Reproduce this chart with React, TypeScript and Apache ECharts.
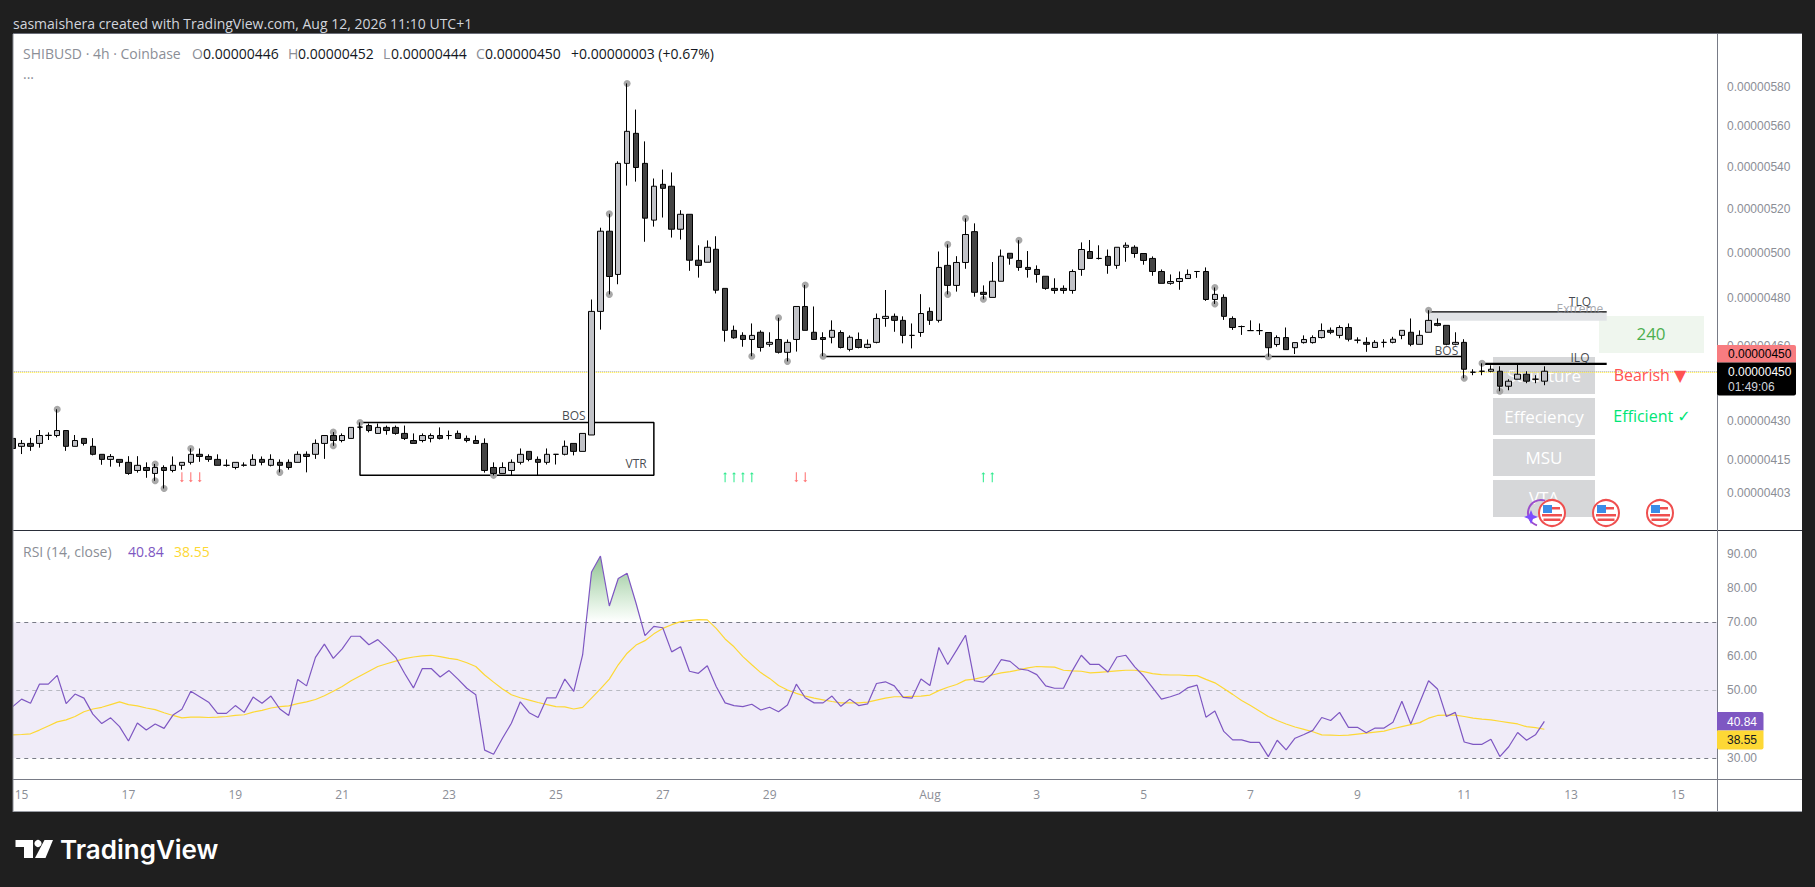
import React, { useEffect, useRef } from "react";
import * as echarts from "echarts";

// prices are in units of 0.00000001: [open, close, low, high]
const candles: number[][] = [
  [423.2,419.4,419.4,423.2],[420.2,421.3,417.3,422.6],[421.3,420.2,418.5,423.4],[421.3,424.3,419.7,426.4],[424.3,424.4,422.6,425.5],
  [424.3,426.2,423.6,434.4],[426.2,420.2,418.5,426.2],[420.2,422.4,420.2,424.5],[423.2,421.3,420.5,423.2],[420.2,417.2,416.8,423.3],
  [417.2,415.3,413.3,417.2],[415.3,416.4,412.6,417.3],[415.3,414.2,412.6,415.3],[414.2,410.1,409.6,416.5],[411.2,413.1,410.4,416.5],
  [412.3,411.2,408.5,414.2],[410.1,412.3,407.4,413.6],[412.3,411.2,404.6,413.1],[411.2,413.1,410.5,416.4],[413.1,414.2,411.5,414.2],
  [414.2,417.2,413.4,419.4],[417.2,416.4,414.4,419.4],[416.4,415.3,414.4,417.2],[415.3,413.1,413.1,417.2],[413.1,413.1,412.6,415.3],
  [412.3,414.2,411.6,414.2],[413.1,413.2,412.6,414.2],[413.1,415.3,413.1,417.2],[415.3,414.2,413.1,416.4],[413.1,415.3,412.7,417.2],
  [414.2,413.1,410.5,415.3],[414.2,412.3,411.5,415.3],[414.2,417.2,414.2,418.3],[417.2,416.4,410.5,418.3],[417.2,421.3,415.5,422.8],
  [421.3,424.3,415.5,424.3],[424.3,422.4,420.4,425.6],[422.4,424.3,421.7,425.1],[423.2,427.4,423.2,427.4],[427.5,427.5,426.6,429.3],
  [428.1,426.2,425.5,428.9],[425.1,427.4,425.1,428.9],[427.4,426.2,424.6,428.1],[427.4,425.1,424.6,428.1],[425.1,423.2,422.6,428.1],
  [422.4,421.3,421.3,425.1],[422.4,424.3,421.7,425.1],[423.2,424.3,421.7,425.1],[424.3,423.2,422.8,427.4],[424.3,424.3,422.8,426.2],
  [425.1,423.2,423.2,426.2],[423.2,422.4,421.7,424.3],[422.4,421.3,421.3,424.3],[421.3,411.2,410.4,423.2],[412.3,410.1,409.4,414.2],
  [410.1,412.3,410.1,414.2],[411.2,414.2,409.4,415.3],[414.2,417.2,413.4,419.4],[418.3,415.3,414.6,418.3],[415.3,414.2,409.4,416.4],
  [414.2,417.2,413.4,419.4],[417.2,417.2,413.4,417.2],[417.2,420.2,416.8,422.4],[421.3,418.3,416.8,421.3],[418.3,425.1,418.3,425.1],
  [424.5,474.3,424.5,479.4],[474.3,509.7,466.6,511.3],[509.7,489.4,481.6,517.7],[490.3,541.7,486.0,542.7],[541.7,557.5,531.0,582.0],
  [556.5,539.7,532.9,568.5],[541.7,515.7,504.9,552.5],[514.8,530.7,511.8,534.4],[531.6,529.7,516.0,538.7],[530.7,510.6,506.8,537.3],
  [510.6,517.5,505.9,519.4],[517.5,496.6,491.9,517.5],[496.6,494.3,488.9,503.3],[495.7,502.4,495.7,505.5],[501.5,483.4,482.0,507.4],
  [484.2,466.3,461.6,484.2],[466.3,463.2,462.8,468.3],[464.2,462.5,459.5,465.5],[462.5,464.2,455.6,469.2],[465.5,459.2,457.5,466.3],
  [460.5,461.3,459.5,465.5],[462.5,457.2,456.7,471.6],[457.2,461.3,453.5,462.5],[462.5,476.4,457.5,476.4],[476.4,466.3,466.3,485.7],
  [465.5,462.5,462.5,476.4],[463.3,462.5,455.6,465.5],[463.4,466.3,460.9,470.5],[465.4,459.2,458.8,466.3],[458.4,463.4,457.6,464.2],
  [462.5,459.2,458.8,465.4],[459.2,460.5,458.8,462.5],[461.3,471.3,460.9,473.4],[471.3,472.2,467.8,483.5],[472.2,470.5,465.7,473.4],
  [470.5,464.2,460.9,472.2],[464.2,464.2,458.8,469.2],[465.4,473.4,463.6,481.7],[474.3,470.5,468.6,476.0],[470.5,493.4,469.6,500.5],
  [494.3,485.5,481.6,503.7],[485.5,495.6,482.8,498.4],[495.6,508.2,492.8,515.6],[509.5,482.5,480.6,513.3],[482.5,481.6,479.5,485.5],
  [480.3,487.3,480.3,495.8],[487.3,498.4,487.3,501.4],[499.7,497.5,494.6,499.7],[496.5,493.4,491.9,505.6],[493.4,492.5,488.9,500.7],
  [492.5,490.3,486.7,494.3],[489.5,484.2,483.6,489.5],[484.2,483.3,481.9,488.6],[484.2,483.3,481.9,485.5],[483.3,491.6,481.9,492.5],
  [492.5,501.4,489.7,504.6],[500.5,497.4,497.4,505.7],[497.4,497.4,496.9,503.3],[498.3,494.3,490.6,501.4],[494.3,502.4,492.8,502.4],
  [502.4,503.3,495.9,504.6],[502.4,499.6,497.7,503.3],[499.6,496.5,494.6,499.6],[497.4,491.6,489.7,498.3],[491.6,486.4,486.4,492.5],
  [486.4,487.2,485.8,490.3],[487.2,488.5,483.6,491.6],[488.5,490.3,488.5,492.5],[491.6,491.6,488.8,491.6],[491.6,479.4,478.8,493.4],
  [479.4,481.6,477.5,484.6],[480.3,472.2,470.7,481.6],[471.3,467.5,466.5,472.2],[467.9,467.9,464.4,468.3],[466.2,466.2,466.2,470.5],
  [466.2,466.2,464.4,469.2],[465.4,459.1,455.4,465.4],[460.4,463.3,459.5,464.2],[463.3,458.3,458.3,467.5],[459.1,461.2,456.5,461.2],
  [461.2,462.5,460.8,464.2],[461.2,463.3,460.8,464.2],[463.3,466.2,462.9,469.2],[466.3,465.5,464.7,467.5],[464.2,467.5,463.0,468.4],
  [467.5,462.6,461.7,469.2],[462.2,462.2,460.9,463.4],[461.3,460.5,457.4,463.4],[459.2,461.3,459.2,462.2],[461.3,461.3,459.2,462.6],
  [461.3,462.6,460.9,463.6],[464.2,466.3,462.6,466.3],[465.5,460.5,459.7,471.3],[460.5,464.2,460.5,466.3],[465.5,470.5,465.5,474.8],
  [469.2,468.4,468.0,471.3],[468.4,460.5,460.1,468.4],[460.5,461.3,460.1,465.5],[461.3,450.3,446.7,462.6],[449.1,449.1,447.9,450.3],
  [449.5,449.5,447.9,452.7],[449.5,450.3,449.1,451.9],[449.5,443.5,441.5,451.5],[443.5,445.5,441.9,446.3],[446.3,448.3,446.3,452.3],
  [448.3,445.5,444.7,449.5],[446.3,446.3,444.7,447.9],[445.5,449.5,443.9,451.5],
];

const rsiValues: number[] = [
  45.2,47.4,46.2,51.8,51.8,54.4,46.1,48.9,47.7,43.0,40.2,41.9,39.3,35.1,40.4,38.3,40.1,38.8,42.7,44.4,
  49.7,48.1,46.5,43.2,43.2,45.5,43.5,48.0,46.2,48.3,44.5,42.6,53.2,51.3,59.7,63.6,59.4,62.2,65.9,65.9,
  63.4,64.9,62.4,59.7,55.0,50.7,56.4,56.4,53.9,55.8,53.3,50.6,48.7,32.4,31.2,35.9,40.3,46.6,43.4,42.0,
  47.8,47.8,53.3,49.7,60.4,84.8,89.5,74.8,82.9,84.4,75.6,66.1,68.8,68.4,61.3,62.8,55.6,55.0,57.2,51.1,
  46.3,45.5,45.2,45.9,44.2,45.0,43.7,45.7,51.8,47.8,46.3,46.3,48.3,45.3,47.4,45.5,46.0,52.0,52.5,51.3,
  47.9,47.7,53.3,51.4,62.6,57.6,61.8,66.2,52.8,52.4,54.8,59.0,58.5,56.3,55.9,54.6,51.3,50.6,50.6,55.8,
  60.3,57.6,57.6,55.4,59.8,60.3,56.9,54.2,50.8,47.4,48.1,49.0,50.8,51.5,42.1,43.9,37.9,35.4,35.4,34.7,
  34.7,30.5,35.3,32.5,35.9,37.0,38.2,42.0,41.1,43.5,39.1,39.1,37.5,38.9,38.9,40.6,46.8,40.1,46.4,52.8,
  50.4,42.3,43.5,34.8,34.1,34.1,35.6,30.5,33.4,37.6,35.3,36.9,40.84,
];

const rsiMa: number[] = [
  36.9,37.0,37.2,38.3,39.5,40.7,41.3,42.3,43.7,44.5,45.0,45.8,46.6,45.8,45.4,44.8,44.3,43.4,42.6,41.9,
  42.1,42.1,42.0,42.1,42.3,42.6,42.8,43.6,44.1,44.8,45.2,45.4,46.1,46.6,47.3,48.4,49.7,51.1,52.8,54.2,
  55.6,57.0,57.8,58.6,59.3,59.8,60.1,60.3,59.9,59.4,59.0,58.1,57.0,54.5,52.4,50.4,48.7,47.8,47.1,46.4,
  45.8,45.2,45.1,44.5,45.0,47.7,50.4,53.3,57.5,60.9,63.3,64.6,66.6,68.2,69.3,70.2,70.5,70.8,70.7,68.2,
  65.1,62.8,59.9,57.5,55.2,53.5,51.4,50.1,49.1,48.3,47.7,47.2,46.7,46.3,46.3,46.3,46.5,47.1,47.7,48.1,
  48.1,48.2,48.3,48.6,49.9,50.9,51.7,53.0,53.3,53.9,54.5,55.1,55.5,56.0,56.6,57.0,56.9,56.8,55.9,55.7,
  55.6,55.1,55.3,55.5,55.7,55.9,55.9,55.5,54.9,54.6,54.5,54.5,54.3,54.3,53.2,52.2,50.5,48.8,47.0,45.5,
  43.9,42.3,41.1,40.1,39.2,38.5,37.8,36.9,36.8,36.7,36.8,37.1,37.4,37.7,38.0,38.7,39.3,39.9,40.5,41.8,
  42.6,42.7,42.7,42.3,41.8,41.5,41.3,40.9,40.5,40.1,39.3,39.0,38.55,
];

// [bar, price] of the swing markers
const swingPoints: number[][] = [
  [5,434.4],[16,413.6],[16,407.4],[17,404.6],[20,419.4],[30,410.5],[36,425.6],[36,420.4],[39,429.3],[54,409.4],
  [67,517.7],[67,481.6],[69,582.0],[83,455.6],[86,471.6],[87,453.5],[89,485.7],[91,455.6],[105,503.7],[105,481.6],
  [107,515.6],[109,479.5],[113,505.6],[135,484.6],[135,477.5],[141,455.4],[159,474.8],[163,446.7],[165,452.7],[167,441.5],
];
const arrowsUp: number[][] = [[80,408.7],[81,408.7],[82,408.7],[83,408.7],[109,408.7],[110,408.7]];
const arrowsDown: number[][] = [[19,408.7],[20,408.7],[21,408.7],[88,408.7],[89,408.7]];

const vtrBox: number[][] = [[39,429.3],[72,429.3],[72,409.4],[39,409.4],[39,429.3]];
const bosLine: number[][] = [[91,455.5],[163,455.5]];
const tlqLine: number[][] = [[159,474.1],[179,474.1]];
const ilqLine: number[][] = [[165,452.5],[179,452.5]];
const extremeBand = { from: [159, 474.1], to: [179, 470.3] };
const lastPrice = 449.4;
const lastPriceMa = 448.9;

const drawingLabels: { text: string; at: number[]; color: string }[] = [
  { text: "BOS", at: [63, 431.9], color: "#131722" },
  { text: "VTR", at: [70, 413.9], color: "#131722" },
  { text: "BOS", at: [161, 458.1], color: "#131722" },
  { text: "TLQ", at: [176, 478.4], color: "#131722" },
  { text: "Extreme", at: [176, 475.7], color: "#8d8f97" },
  { text: "ILQ", at: [176, 455.2], color: "#131722" },
];

const priceTicks = [600, 580, 560, 540, 520, 500, 480, 460, 430, 415, 403, 391];
const rsiTicks = [90, 80, 70, 60, 50, 40, 30];
const dateTicks: Record<string, string> = {
  "07-15": "15", "07-17": "17", "07-19": "19", "07-21": "21", "07-23": "23", "07-25": "25", "07-27": "27", "07-29": "29",
  "08-01": "Aug", "08-03": "3", "08-05": "5", "08-07": "7", "08-09": "9", "08-11": "11", "08-13": "13", "08-15": "15",
};
const pad = (n: number) => String(n).padStart(2, "0");
const categories: string[] = Array.from({ length: 192 }, (_, i) => {
  const d = new Date(Date.UTC(2026, 6, 14, 20 + 4 * i));
  return `${pad(d.getUTCMonth() + 1)}-${pad(d.getUTCDate())} ${pad(d.getUTCHours())}`;
});
const tickLabel = (c: string) => (c.endsWith(" 00") ? dateTicks[c.slice(0, 5)] : undefined);

const SANS = '"Open Sans", sans-serif';
const GRAY = "#8b8e96";

function txt(text: string, x: number, y: number, fill: string, size = 14, opt: any = {}) {
  return {
    type: "text",
    z: opt.z ?? 6,
    style: {
      text, x, y, fill, fontSize: size,
      fontFamily: opt.family ?? SANS,
      fontWeight: opt.weight ?? "normal",
      textAlign: opt.align ?? "left",
      textVerticalAlign: "middle",
    },
  };
}
function box(x: number, y: number, width: number, height: number, fill: string, z = 1, r: any = 0) {
  return { type: "rect", z, shape: { x, y, width, height, r }, style: { fill } };
}
function hv(x1: number, y1: number, x2: number, y2: number, stroke: string, z = 8, lineWidth = 1) {
  return { type: "line", z, shape: { x1, y1, x2, y2 }, style: { stroke, lineWidth } };
}
function flag(cx: number, cy: number) {
  const red = "#ef4f4f";
  return [
    { type: "circle", z: 30, shape: { cx, cy, r: 13 }, style: { fill: "#fff", stroke: red, lineWidth: 2 } },
    box(cx - 9, cy - 8, 9, 8, "#3b8ce8", 31),
    box(cx, cy - 6, 8, 2.5, red, 31),
    box(cx - 10, cy + 1, 20, 2.5, red, 31),
    box(cx - 8.5, cy + 5.5, 17, 2.5, red, 31),
  ];
}

const graphicElements: any[] = [
  box(13, 34, 1789, 778, "#ffffff", -2),
  // table panel behind candles
  box(1493, 357, 102, 37, "#d6d7d9", 1),
  box(1493, 398, 102, 37, "#d6d7d9", 1),
  box(1493, 439, 102, 37, "#d6d7d9", 1),
  box(1493, 480, 102, 37, "#d6d7d9", 1),
  txt("Structure", 1544, 375, "#ffffff", 17, { align: "center", z: 1 }),
  txt("Effeciency", 1544, 416, "#ffffff", 17, { align: "center", z: 1 }),
  txt("MSU", 1544, 457, "#ffffff", 17, { align: "center", z: 1 }),
  txt("VTA", 1544, 497, "#ffffff", 17, { align: "center", z: 1 }),
  box(1599, 316, 105, 37, "#eff6ee", 1),
  txt("240", 1651, 333, "#4caf50", 17, { align: "center", z: 3 }),
  txt("Bearish ▼", 1650, 375, "#ff5252", 16, { align: "center", z: 3, family: '"Open Sans","DejaVu Sans",sans-serif' }),
  txt("Efficient ✓", 1652, 416, "#00e676", 16, { align: "center", z: 3, family: '"Open Sans","DejaVu Sans",sans-serif' }),
  // frame
  box(0, 0, 13, 887, "#1f1f1f", 20),
  hv(13, 33.5, 1802, 33.5, "#6a6d78", 21),
  hv(13, 34, 13, 812, "#8a8d95", 21),
  hv(13, 530.5, 1802, 530.5, "#2a2e39", 9),
  hv(13, 779.5, 1802, 779.5, "#787b86", 9),
  hv(13, 811.5, 1802, 811.5, "#9a9da5", 21),
  hv(1717.5, 34, 1717.5, 812, "#787b86", 9),
  box(1718, 531, 84, 14, "#ffffff", 5),
  // header
  txt("sasmaishera created with TradingView.com, Aug 12, 2026 11:10 UTC+1", 13, 23, "#d1d4dc", 14, { z: 22 }),
  txt("SHIBUSD · 4h · Coinbase", 23, 53, GRAY, 14),
  txt("O", 192, 53, GRAY, 14),
  txt("0.00000446", 203, 53, "#131722", 14),
  txt("H", 288, 53, GRAY, 14),
  txt("0.00000452", 298, 53, "#131722", 14),
  txt("L", 383, 53, GRAY, 14),
  txt("0.00000444", 391, 53, "#131722", 14),
  txt("C", 476, 53, GRAY, 14),
  txt("0.00000450", 485, 53, "#131722", 14),
  txt("+0.00000003 (+0.67%)", 571, 53, "#131722", 14),
  txt("...", 23, 73, GRAY, 14),
  txt("RSI (14, close)", 23, 551, GRAY, 14),
  txt("40.84", 128, 551, "#7e57c2", 14),
  txt("38.55", 174, 551, "#fdd835", 14),
  // price tags
  box(1717, 345, 79, 17.5, "#f77c80", 22, [0, 2, 0, 0]),
  txt("0.00000450", 1728, 354, "#000000", 12, { z: 23, family: '"Liberation Sans"' }),
  box(1717, 362.5, 79, 33, "#000000", 22, [0, 0, 2, 2]),
  txt("0.00000450", 1728, 372, "#ffffff", 12, { z: 23, family: '"Liberation Sans"' }),
  txt("01:49:06", 1728, 387, "#d1d4dc", 12, { z: 23, family: '"Liberation Sans"' }),
  box(1717, 712, 46.5, 18.5, "#7e57c2", 22, [0, 2, 0, 0]),
  txt("40.84", 1727, 721.5, "#ffffff", 12, { z: 23, family: '"Liberation Sans"' }),
  box(1717, 730.5, 46.5, 19, "#fdd835", 22, [0, 0, 2, 2]),
  txt("38.55", 1727, 740, "#131722", 12, { z: 23, family: '"Liberation Sans"' }),
  // calendar icons
  { type: "arc", z: 29, shape: { cx: 1541, cy: 513, r: 13, startAngle: Math.PI * 0.6, endAngle: Math.PI * 1.6, clockwise: true }, style: { stroke: "#9c4dcc", fill: "none", lineWidth: 2 } },
  { type: "polygon", z: 32, shape: { points: [[1531, 510], [1533, 515], [1538, 517], [1533, 519], [1531, 524], [1529, 519], [1524, 517], [1529, 515]] }, style: { fill: "#7c4dff" } },
  ...flag(1552, 513),
  ...flag(1606, 513),
  ...flag(1660, 513),
  // logo
  { type: "polygon", z: 22, shape: { points: [[15.5, 840], [33, 840], [33, 858], [24, 858], [24, 847], [15.5, 847]] }, style: { fill: "#ffffff" } },
  { type: "circle", z: 22, shape: { cx: 38, cy: 843.5, r: 3.6 }, style: { fill: "#ffffff" } },
  { type: "polygon", z: 22, shape: { points: [[44.5, 840], [53, 840], [45.5, 858], [35, 858]] }, style: { fill: "#ffffff" } },
  txt("TradingView", 60, 849, "#ffffff", 26, { z: 22, weight: 600, family: "Inter, sans-serif" }),
];

const levelSeries = (data: number[][], lineWidth = 1.5, extra: any = {}) => ({
  type: "line", data, xAxisIndex: 0, yAxisIndex: 0, symbol: "none", z: 3, silent: true,
  lineStyle: { color: "#000000", width: lineWidth }, ...extra,
});

const option: any = {
  animation: false,
  backgroundColor: "#1f1f1f",
  graphic: { elements: graphicElements },
  grid: [
    { left: 8.25, top: 34, width: 1709.76, height: 496 },
    { left: 8.25, top: 530, width: 1709.76, height: 249.3 },
  ],
  xAxis: [
    { type: "category", gridIndex: 0, data: categories, axisLine: { show: false }, axisTick: { show: false }, axisLabel: { show: false }, splitLine: { show: false } },
    {
      type: "category", gridIndex: 1, data: categories, axisLine: { show: false }, axisTick: { show: false }, splitLine: { show: false },
      axisLabel: {
        show: true, margin: 9, color: "#8b8e96", fontSize: 12, fontFamily: SANS, hideOverlap: false,
        interval: (_: number, v: string) => tickLabel(v) !== undefined,
        formatter: (v: string) => tickLabel(v) ?? "",
      },
    },
  ],
  yAxis: [
    {
      type: "log", gridIndex: 0, position: "right", min: 389.8, max: 608.4, logBase: 10,
      axisLine: { show: false }, axisTick: { show: false }, splitLine: { show: false },
      axisLabel: {
        show: true, margin: 9, color: "#8b8e96", fontSize: 12, fontFamily: '"Liberation Sans"',
        customValues: priceTicks, showMinLabel: false, showMaxLabel: false,
        formatter: (v: number) => (Math.round(v) / 1e8).toFixed(8),
      },
    },
    {
      type: "value", gridIndex: 1, position: "right", min: 23.82, max: 97.15,
      axisLine: { show: false }, axisTick: { show: false }, splitLine: { show: false },
      axisLabel: {
        show: true, margin: 9, color: "#8b8e96", fontSize: 12, fontFamily: '"Liberation Sans"',
        customValues: rsiTicks, formatter: (v: number) => v.toFixed(2),
      },
    },
  ],
  series: [
    {
      type: "candlestick", xAxisIndex: 0, yAxisIndex: 0, data: candles, barWidth: 6, z: 4, silent: true,
      itemStyle: { color: "#c1c2c7", color0: "#444444", borderColor: "#000000", borderColor0: "#000000", borderColorDoji: "#000000", borderWidth: 1 },
      markLine: {
        silent: true, symbol: "none", z: 2, label: { show: false },
        data: [
          { yAxis: lastPrice, lineStyle: { color: "#b2b5be", type: "dotted", width: 1 } },
          { yAxis: lastPriceMa, lineStyle: { color: "#ffeb3b", type: "dotted", width: 1 } },
        ],
      },
    },
    levelSeries(vtrBox),
    levelSeries(bosLine),
    levelSeries(tlqLine, 1.2, {
      markArea: {
        silent: true, z: 1, itemStyle: { color: "#e1e3e6" },
        data: [[{ coord: extremeBand.from }, { coord: extremeBand.to }]],
      },
    }),
    levelSeries(ilqLine, 2.2),
    {
      type: "scatter", data: swingPoints, xAxisIndex: 0, yAxisIndex: 0, symbolSize: 7, z: 3, silent: true,
      itemStyle: { color: "#a3a3a3", opacity: 0.95 },
    },
    {
      type: "scatter", data: arrowsUp, xAxisIndex: 0, yAxisIndex: 0, z: 3, silent: true,
      symbol: "path://M3 0 L6 4 L3.8 4 L3.8 20 L2.2 20 L2.2 4 L0 4 Z", symbolSize: [4, 10],
      itemStyle: { color: "#00e676" },
    },
    {
      type: "scatter", data: arrowsDown, xAxisIndex: 0, yAxisIndex: 0, z: 3, silent: true,
      symbol: "path://M3 0 L6 4 L3.8 4 L3.8 20 L2.2 20 L2.2 4 L0 4 Z", symbolRotate: 180, symbolSize: [4, 10],
      itemStyle: { color: "#ff5252" },
    },
    {
      type: "scatter", xAxisIndex: 0, yAxisIndex: 0, z: 5, silent: true, symbolSize: 1,
      itemStyle: { color: "transparent" },
      data: drawingLabels.map((d) => ({
        value: d.at,
        label: { show: true, position: "inside", formatter: d.text, color: d.color, fontSize: 12, fontFamily: SANS },
      })),
    },
    {
      type: "line", name: "RSI", xAxisIndex: 1, yAxisIndex: 1, data: rsiValues, symbol: "none", z: 4, silent: true,
      lineStyle: { color: "#7e57c2", width: 1.2 },
      areaStyle: {
        origin: 70, opacity: 1,
        color: new echarts.graphic.LinearGradient(0, 553, 0, 758, [
          { offset: 0, color: "rgba(56,142,60,0.6)" },
          { offset: 0.338, color: "rgba(76,175,80,0)" },
          { offset: 1, color: "rgba(76,175,80,0)" },
        ], true),
      },
      markArea: {
        silent: true, z: 1, itemStyle: { color: "#f0ecf8" },
        data: [[{ yAxis: 70 }, { yAxis: 30 }]],
      },
      markLine: {
        silent: true, symbol: "none", z: 2, label: { show: false },
        data: [
          { yAxis: 70, lineStyle: { color: "#787b86", type: [4, 4], width: 1 } },
          { yAxis: 50, lineStyle: { color: "#b8bac2", type: [4, 4], width: 1 } },
          { yAxis: 30, lineStyle: { color: "#787b86", type: [4, 4], width: 1 } },
        ],
      },
    },
    {
      type: "line", name: "RSI MA", xAxisIndex: 1, yAxisIndex: 1, data: rsiMa, symbol: "none", z: 3, silent: true,
      lineStyle: { color: "#fdd835", width: 1.2 },
    },
  ],
};

export default function App() {
  const ref = useRef<HTMLDivElement>(null);
  useEffect(() => {
    document.body.style.margin = "0";
    const chart = echarts.init(ref.current!, undefined, { renderer: "svg" });
    chart.setOption(option);
    return () => chart.dispose();
  }, []);
  return <div ref={ref} style={{ position: "fixed", left: 0, top: 0, width: 1815, height: 887 }} />;
}
